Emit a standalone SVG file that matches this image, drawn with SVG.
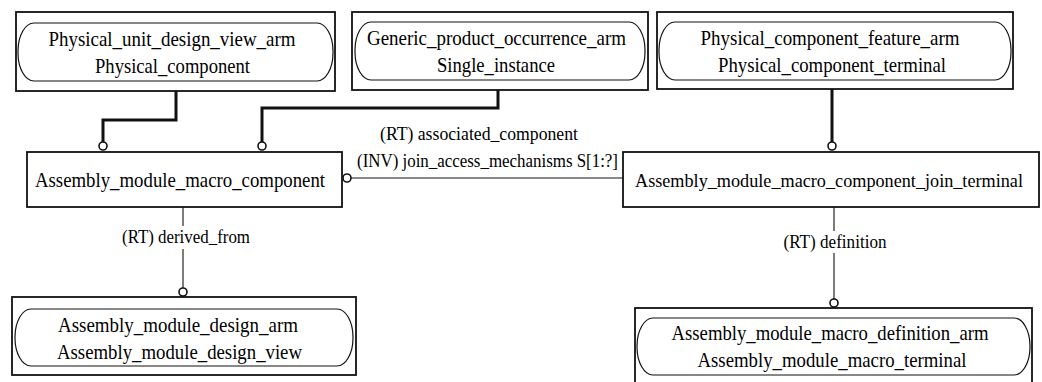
<svg xmlns="http://www.w3.org/2000/svg" width="1042" height="382" viewBox="0 0 1042 382">
<style>
.outer{fill:#fff;stroke:#111;stroke-width:1.8}
.inner{fill:none;stroke:#111;stroke-width:1.2}
.t{font-family:"Liberation Serif","Times New Roman",serif;font-size:21px;fill:#000;text-anchor:middle}
.l{font-family:"Liberation Serif","Times New Roman",serif;font-size:18px;fill:#000;text-anchor:middle}
.thick{fill:none;stroke:#111;stroke-width:3}
.thin{fill:none;stroke:#111;stroke-width:1.1}
.circ{fill:#fff;stroke:#111;stroke-width:1.6}
</style>
<rect width="1042" height="382" fill="#fff"/>
<g id="connectors">
<polyline class="thick" points="176,91 176,120 103,120 103,142"/>
<polyline class="thick" points="498,90 498,108 262,108 262,142"/>
<polyline class="thick" points="832,89 832,142"/>
<circle class="circ" cx="103" cy="146" r="4"/>
<circle class="circ" cx="262" cy="146" r="4"/>
<circle class="circ" cx="832" cy="146" r="4"/>
<line class="thin" x1="351" y1="178" x2="623" y2="178"/>
<circle class="circ" cx="347" cy="178" r="4"/>
<text class="l" x="479" y="140" textLength="198" lengthAdjust="spacingAndGlyphs">(RT) associated_component</text>
<text class="l" x="487.5" y="167" textLength="261" lengthAdjust="spacingAndGlyphs">(INV) join_access_mechanisms S[1:?]</text>
<line class="thin" x1="183" y1="207" x2="183" y2="226"/>
<line class="thin" x1="183" y1="249" x2="183" y2="288"/>
<circle class="circ" cx="183" cy="292" r="4"/>
<text class="l" x="186" y="243" textLength="128" lengthAdjust="spacingAndGlyphs">(RT) derived_from</text>
<line class="thin" x1="834" y1="207" x2="834" y2="231"/>
<line class="thin" x1="834" y1="253" x2="834" y2="299"/>
<circle class="circ" cx="834" cy="303" r="4"/>
<text class="l" x="835" y="248" textLength="103" lengthAdjust="spacingAndGlyphs">(RT) definition</text>
</g>
<g id="n_physical_component">
<rect class="outer" x="16" y="12" width="319" height="79"/>
<rect class="inner" x="18" y="23" width="315" height="58" rx="16" ry="28"/>
<text class="t" x="172" y="46" textLength="247" lengthAdjust="spacingAndGlyphs">Physical_unit_design_view_arm</text>
<text class="t" x="172.5" y="73" textLength="155" lengthAdjust="spacingAndGlyphs">Physical_component</text>
</g>
<g id="n_single_instance">
<rect class="outer" x="352" y="12" width="296" height="78"/>
<rect class="inner" x="355" y="22" width="290" height="58" rx="16" ry="28"/>
<text class="t" x="496.5" y="45" textLength="259" lengthAdjust="spacingAndGlyphs">Generic_product_occurrence_arm</text>
<text class="t" x="496" y="72" textLength="118" lengthAdjust="spacingAndGlyphs">Single_instance</text>
</g>
<g id="n_physical_component_terminal">
<rect class="outer" x="657" y="12" width="356" height="77"/>
<rect class="inner" x="659" y="22" width="352" height="58" rx="16" ry="28"/>
<text class="t" x="830" y="45" textLength="259" lengthAdjust="spacingAndGlyphs">Physical_component_feature_arm</text>
<text class="t" x="832" y="72" textLength="228" lengthAdjust="spacingAndGlyphs">Physical_component_terminal</text>
</g>
<g id="n_macro_component">
<rect class="outer" x="27" y="152" width="315" height="55"/>
<text class="t" x="180" y="187" textLength="290" lengthAdjust="spacingAndGlyphs">Assembly_module_macro_component</text>
</g>
<g id="n_join_terminal">
<rect class="outer" x="623" y="152" width="416" height="55"/>
<text class="t" x="829" y="187" style="font-size:18.2px" textLength="388" lengthAdjust="spacingAndGlyphs">Assembly_module_macro_component_join_terminal</text>
</g>
<g id="n_design_view">
<rect class="outer" x="12" y="297" width="344" height="78"/>
<rect class="inner" x="15" y="309" width="338" height="57" rx="16" ry="28"/>
<text class="t" x="178" y="332" textLength="240" lengthAdjust="spacingAndGlyphs">Assembly_module_design_arm</text>
<text class="t" x="179.5" y="359" textLength="245" lengthAdjust="spacingAndGlyphs">Assembly_module_design_view</text>
</g>
<g id="n_macro_terminal">
<rect class="outer" x="635" y="308" width="397" height="80"/>
<rect class="inner" x="637" y="318" width="393" height="57" rx="16" ry="28"/>
<text class="t" x="830" y="340" textLength="317" lengthAdjust="spacingAndGlyphs">Assembly_module_macro_definition_arm</text>
<text class="t" x="832" y="367" textLength="269" lengthAdjust="spacingAndGlyphs">Assembly_module_macro_terminal</text>
</g>
</svg>
